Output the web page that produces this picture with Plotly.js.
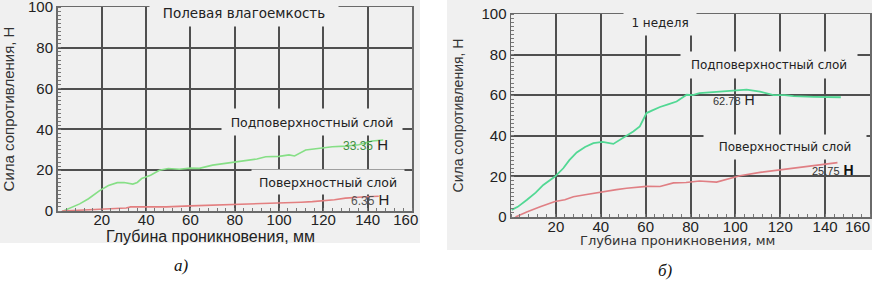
<!DOCTYPE html>
<html><head><meta charset="utf-8">
<script src="https://cdn.plot.ly/plotly-3.0.1.min.js"></script>
<style>html,body{margin:0;padding:0;background:#fff}#c{width:872px;height:283px}</style>
</head><body><div id="c"></div>
<script>
// Panel а) — Полевая влагоемкость
const aSubX = [2.6, 6, 10, 14, 19, 23, 27, 30, 34, 36, 38, 42, 46, 50, 55, 60, 64, 70, 75, 79, 85, 90, 94, 100, 104.5, 107, 112, 118, 124, 130, 136, 142, 147];
const aSubY = [0, 1.5, 3.5, 6, 10, 12.5, 13.9, 14, 13.2, 14, 15.9, 17.5, 20, 20.8, 20.5, 21, 20.9, 22.5, 23.2, 23.9, 24.8, 25.5, 26.6, 26.8, 27.5, 27, 29.9, 30.6, 31.5, 31.8, 32.5, 34.3, 34.8];
const aSurfX = [2, 10, 19, 25, 31, 33, 40, 49, 60, 70, 79, 90, 100, 110, 115, 120, 125, 130, 135, 139, 145];
const aSurfY = [0, 0.5, 1, 1.2, 1.5, 2, 2, 2, 2.5, 2.8, 3.2, 3.5, 4, 4.3, 4.6, 5, 5.5, 6.3, 6.8, 7, 7.2];
// Panel б) — 1 неделя
const bSubX = [0.3, 3, 7, 11, 14.4, 19.6, 23.3, 26, 29.3, 33, 36.7, 40.8, 45.6, 48.5, 54.5, 57.4, 60.4, 63, 66.4, 70, 73.8, 78.3, 81, 84, 90, 94.6, 100, 105, 111, 117, 122, 126, 135, 145, 147];
const bSubY = [3.5, 5, 8.4, 12, 15.8, 19.9, 24, 28, 31.8, 34.5, 36.4, 37, 36, 38, 42.1, 44.6, 51.2, 52.5, 54.2, 55.5, 56.9, 60.2, 60, 61, 61.5, 62, 62.5, 62.7, 61.8, 60, 60, 59.5, 59.2, 59, 59];
const bSurfX = [2, 7, 13, 19.6, 24, 27.8, 33, 38.2, 42.6, 47, 51.5, 56, 60.4, 66.4, 72.4, 78, 84, 91.6, 96, 102, 111, 120, 129, 139.6, 145.5];
const bSurfY = [0, 2.5, 5, 7.6, 8.5, 10, 11, 12, 13, 13.5, 14.2, 14.5, 15.1, 15, 16.8, 17, 17.7, 17.2, 18.6, 20.3, 22, 23.3, 24.5, 26, 26.8];

const xTicks = [20, 40, 60, 80, 100, 120, 140, 160];
const xTickTextA = ['20', '40', '60', '80', '100', '120', '140', '160\u00a0\u00a0\u00a0'];
const xTickTextB = ['20', '40', '60', '80', '100', '120', '140', '160\u00a0\u00a0\u00a0\u00a0\u00a0\u00a0'];
const yTicks = [0, 20, 40, 60, 80, 100];
const xTitle = 'Глубина проникновения, мм';
const yTitle = 'Сила сопротивления, Н';

const traces = [
  {x: aSubX, y: aSubY, xaxis: 'x', yaxis: 'y', mode: 'lines', line: {color: '#86df86', width: 1.6}, hoverinfo: 'skip'},
  {x: aSurfX, y: aSurfY, xaxis: 'x', yaxis: 'y', mode: 'lines', line: {color: '#e37f80', width: 1.6}, hoverinfo: 'skip'},
  {x: bSubX, y: bSubY, xaxis: 'x2', yaxis: 'y2', mode: 'lines', line: {color: '#52d894', width: 1.8}, hoverinfo: 'skip'},
  {x: bSurfX, y: bSurfY, xaxis: 'x2', yaxis: 'y2', mode: 'lines', line: {color: '#e07f84', width: 1.6}, hoverinfo: 'skip'}
];

const tickFont = {family: 'Liberation Sans, Arial, sans-serif', size: 15, color: '#222'};
function xax(domain, anchor, ticktext, standoff) {
  return {
    domain: domain, anchor: anchor, range: [0, 160], tickmode: 'array', tickvals: xTicks, ticktext: ticktext,
    showgrid: true, gridcolor: '#4f4f4f', gridwidth: 2, zeroline: false,
    showline: true, linecolor: '#6a6a6a', linewidth: 1.5, mirror: true, ticks: '',
    ticklabeloverflow: 'allow', ticklabelstandoff: standoff,
    minor: {tickmode: 'linear', tick0: 0, dtick: 4, ticks: 'inside', ticklen: 3, tickcolor: '#777', showgrid: false},
    tickfont: tickFont, fixedrange: true
  };
}
function yax(domain, anchor, tfont, standoff) {
  return {
    domain: domain, anchor: anchor, range: [0, 100], tickmode: 'array', tickvals: yTicks,
    showgrid: true, gridcolor: '#4f4f4f', gridwidth: 2, zeroline: false,
    showline: true, linecolor: '#6a6a6a', linewidth: 1.5, mirror: true, ticks: '',
    ticklabeloverflow: 'allow',
    minor: {tickmode: 'linear', tick0: 0, dtick: 2, ticks: 'inside', ticklen: 3, tickcolor: '#777', showgrid: false},
    tickfont: tickFont,
    title: {text: yTitle, standoff: standoff, font: tfont}, fixedrange: true
  };
}

const lab = {family: 'DejaVu Sans, sans-serif', size: 12, color: '#222'};
const bg = '#f0f0f0';
function note(text, x, y, xr, yr, w, h, withBg, font) {
  const a = {text: text, x: x, y: y, xref: xr, yref: yr, showarrow: false, font: font || lab,
             xanchor: 'center', yanchor: 'middle'};
  if (withBg) { a.bgcolor = bg; a.width = w; a.height = h; }
  return a;
}

const annotations = [
  note('Полевая влагоемкость', 84, 97, 'x', 'y', 186, 24, true, {family: 'DejaVu Sans, sans-serif', size: 13.5, color: '#222'}),
  note('Подповерхностный слой', 115, 43.6, 'x', 'y', 178, 24, true, {family: 'DejaVu Sans, sans-serif', size: 12.5, color: '#222'}),
  note('<span style="color:#3f8f3f;font-size:12px">33.35</span> Н', 139, 32.4, 'x', 'y', 0, 0, false, {family: 'Liberation Sans, Arial, sans-serif', size: 15, color: '#222'}),
  note('Поверхностный слой', 122, 14.2, 'x', 'y', 150, 22, true, {family: 'DejaVu Sans, sans-serif', size: 12.5, color: '#222'}),
  note('<span style="color:#555;font-size:12px">6.35</span> Н', 141, 5.4, 'x', 'y', 0, 0, false, {family: 'Liberation Sans, Arial, sans-serif', size: 15, color: '#222'}),

  note('1 неделя', 66.4, 95.8, 'x2', 'y2', 70, 22, true),
  note('Подповерхностный слой', 115, 75, 'x2', 'y2', 174, 24, true),
  note('<span style="color:#333;font-size:11px">62.78</span> Н', 99.3, 57.8, 'x2', 'y2', 0, 0, false, {family: 'Liberation Sans, Arial, sans-serif', size: 14, color: '#222'}),
  note('Поверхностный слой', 122, 34.6, 'x2', 'y2', 160, 22, true),
  note('<span style="color:#333;font-size:11px">25.75</span> <b>Н</b>', 143.4, 23.2, 'x2', 'y2', 0, 0, false, {family: 'Liberation Sans, Arial, sans-serif', size: 14, color: '#111'}),

  // x-axis titles
  {text: xTitle, x: 210 / 872, y: 1 - 236 / 283, xref: 'paper', yref: 'paper', showarrow: false, xanchor: 'center', yanchor: 'middle',
   font: {family: 'Liberation Sans, Arial, sans-serif', size: 16, color: '#222'}},
  {text: xTitle, x: 677 / 872, y: 1 - 240 / 283, xref: 'paper', yref: 'paper', showarrow: false, xanchor: 'center', yanchor: 'middle',
   font: {family: 'DejaVu Sans, sans-serif', size: 13, color: '#333'}},

  {text: '<i>а)</i>', x: 181 / 872, y: 1 - 265 / 283, xref: 'paper', yref: 'paper', showarrow: false, xanchor: 'center', yanchor: 'middle',
   font: {family: 'Liberation Serif, Times New Roman, serif', size: 17, color: '#111'}},
  {text: '<i>б)</i>', x: 665 / 872, y: 1 - 270 / 283, xref: 'paper', yref: 'paper', showarrow: false, xanchor: 'center', yanchor: 'middle',
   font: {family: 'Liberation Serif, Times New Roman, serif', size: 17, color: '#111'}}
];

const shapes = [
  {type: 'rect', xref: 'paper', yref: 'paper', x0: 0, x1: 420 / 872, y0: 1 - 243 / 283, y1: 1, fillcolor: bg, line: {width: 0}, layer: 'below'},
  {type: 'rect', xref: 'paper', yref: 'paper', x0: 447 / 872, x1: 1, y0: 1 - 250 / 283, y1: 1, fillcolor: bg, line: {width: 0}, layer: 'below'}
];

const layout = {
  width: 872, height: 283, margin: {l: 0, r: 0, t: 0, b: 0, pad: 0},
  paper_bgcolor: '#ffffff', plot_bgcolor: bg, showlegend: false,
  xaxis: xax([57.5 / 872, 412 / 872], 'y', xTickTextA, -6),
  yaxis: yax([1 - 211 / 283, 1 - 7 / 283], 'x', {family: 'Liberation Sans, Arial, sans-serif', size: 15, color: '#333'}, 14),
  xaxis2: xax([511 / 872, 870 / 872], 'y2', xTickTextB, -5),
  yaxis2: yax([1 - 217 / 283, 1 - 14 / 283], 'x2', {family: 'Liberation Sans, Arial, sans-serif', size: 14, color: '#333'}, 14),
  annotations: annotations, shapes: shapes
};

Plotly.newPlot('c', traces, layout, {staticPlot: true, displayModeBar: false});
</script>
</body></html>
